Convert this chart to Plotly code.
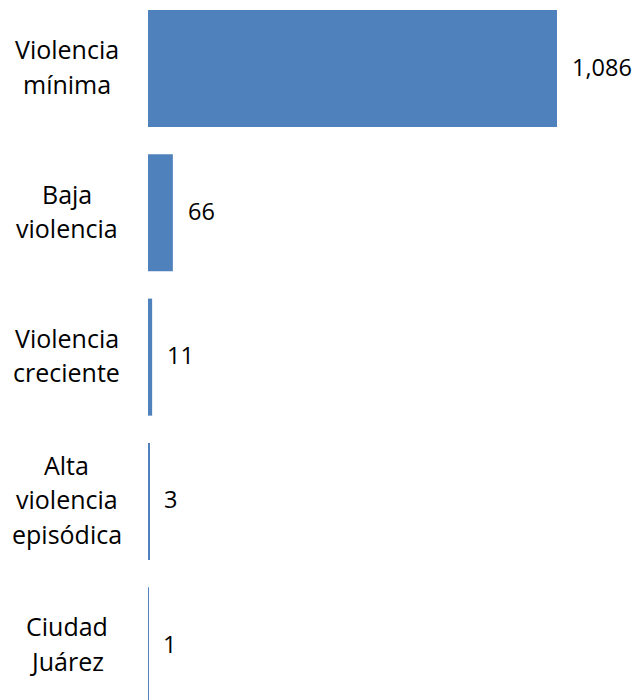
import plotly.graph_objects as go

categories = ["Violencia<br>mínima", "Baja<br>violencia", "Violencia<br>creciente",
              "Alta<br>violencia<br>episódica", "Ciudad<br>Juárez"]
values = [1086, 66, 11, 3, 1]
value_labels = ["1,086", "66", "11", "3", "1"]

W, H = 643, 700
L = 148
FONT = "Open Sans"
FS_CAT = 25
FS_VAL = 23.5
LINE = 34.5
DY = 2

fig = go.Figure(go.Bar(
    x=values, y=list(range(len(categories))), orientation="h",
    marker=dict(color="#4F81BD", line=dict(width=0)),
    hoverinfo="skip",
))

ann = []
for i, (v, lab) in enumerate(zip(values, value_labels)):
    ann.append(dict(x=v, y=i, xref="x", yref="y", text=lab, showarrow=False,
                    xanchor="left", yanchor="middle", xshift=13, yshift=DY,
                    font=dict(family=FONT, size=FS_VAL, color="#000000")))
    lines = categories[i].split("<br>")
    n = len(lines)
    for j, ln in enumerate(lines):
        ann.append(dict(x=(66.5 - L) / (W - L), y=i, xref="paper", yref="y",
                        text=ln, showarrow=False, xanchor="center", yanchor="middle",
                        yshift=((n - 1) / 2 - j) * LINE + DY,
                        font=dict(family=FONT, size=FS_CAT, color="#000000")))

fig.update_layout(
    width=W, height=H,
    margin=dict(l=L, r=0, t=0, b=0),
    paper_bgcolor="white", plot_bgcolor="white",
    bargap=0.189,
    showlegend=False,
    xaxis=dict(range=[0, 1086 * (W - L) / 409], visible=False),
    yaxis=dict(range=[4.376, -0.4747], visible=False),
    annotations=ann,
)

fig.write_html("out.html", config={"displayModeBar": False},
               post_script="document.body.style.margin='0';document.body.style.overflow='hidden';")
